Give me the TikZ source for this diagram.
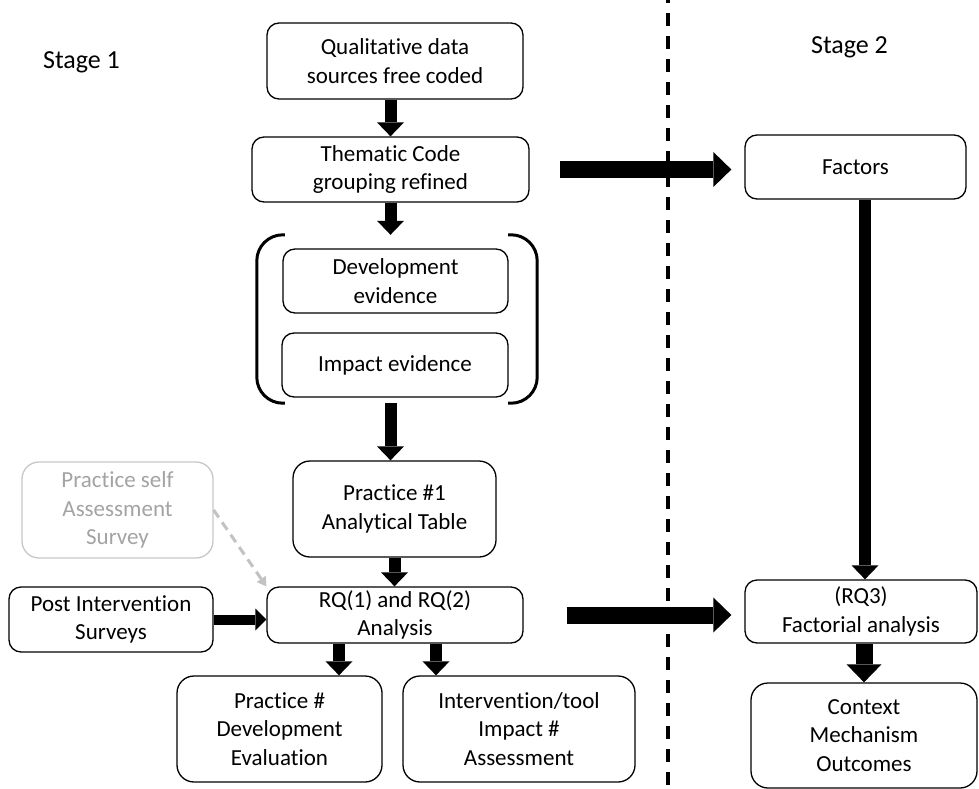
\documentclass[tikz,border=0pt]{standalone}
\usepackage{fontspec}
\setmainfont{Carlito}[Ligatures=NoCommon]
\usetikzlibrary{arrows.meta,positioning,calc}

\begin{document}
\begin{tikzpicture}[
  x=1pt, y=-1pt,
  bx/.style={draw, line width=1.3pt, rounded corners=12pt, align=center,
             font=\fontsize{23}{28.2}\selectfont, inner sep=0pt},
  tallbx/.style={bx, rounded corners=17pt},
  fadedbx/.style={tallbx, draw=black!22, text=black!36},
  stagelbl/.style={font=\fontsize{26}{31}\selectfont, inner sep=0pt},
  paren/.style={line width=3pt, rounded corners=26pt},
  divider/.style={line width=3.2pt, dash pattern=on 13pt off 10pt, dash phase=10pt},
  arr/.style={line width=12pt, -{Triangle[width=27pt,length=14pt,line width=0pt]}},
  smallarr/.style={line width=10pt, -{Triangle[width=22pt,length=11pt,line width=0pt]}},
  bigarr/.style={line width=17pt, -{Triangle[width=35pt,length=18pt,line width=0pt]}},
  fadedarr/.style={draw=black!24, line width=3pt, dash pattern=on 9pt off 6pt,
                   -{Triangle[width=11pt,length=9pt,line width=0pt]}}
]
\useasboundingbox (0,0) rectangle (979,789);
\coordinate (divtop) at (668,0);
\coordinate (divbot) at (668,789);
\draw[divider] (divtop) -- (divbot);

\node[stagelbl] (stage1) at (81.5,62) {Stage 1};
\node[stagelbl] (stage2) at (849.5,47) {Stage 2};

\node[bx, minimum width=256, minimum height=76] (qual) at (395,61) {Qualitative data\\sources free coded};
\node[bx, minimum width=277, minimum height=65] (theme) at (390.5,169.5) {Thematic Code\\grouping refined};
\node[bx, minimum width=225, minimum height=64] (dev) at (395.5,281) {Development\\evidence};
\node[bx, minimum width=226, minimum height=64] (imp) at (395,365) {Impact evidence};
\node[minimum width=280, minimum height=168, inner sep=0pt] (evid) at (397,319) {};
\draw[paren] ([xshift=28pt]evid.north west) -- (evid.north west) -- (evid.south west) -- ([xshift=28pt]evid.south west);
\draw[paren] ([xshift=-29pt]evid.north east) -- (evid.north east) -- (evid.south east) -- ([xshift=-29pt]evid.south east);
\node[tallbx, minimum width=203, minimum height=96] (tab) at (394.5,509) {Practice \#1\\Analytical Table};
\node[fadedbx, minimum width=191, minimum height=96] (self) at (117.5,510) {Practice self\\Assessment\\Survey};
\node[bx, minimum width=256, minimum height=56] (rq) at (395,615) {RQ(1) and RQ(2)\\Analysis};
\node[bx, minimum width=204, minimum height=65] (post) at (111,619.5) {Post Intervention\\Surveys};
\node[tallbx, minimum width=205, minimum height=106] (pde) at (279.5,729) {Practice \#\\Development\\Evaluation};
\node[tallbx, minimum width=232, minimum height=106] (iia) at (519,729) {Intervention/tool\\Impact \#\\Assessment};

\node[bx, minimum width=221, minimum height=64] (fac) at (855.5,167) {Factors};
\node[bx, minimum width=232, minimum height=63] (fan) at (861,611.5) {(RQ3)\\Factorial analysis};
\node[tallbx, minimum width=226, minimum height=105] (cmo) at (864,735.5) {Context\\Mechanism\\Outcomes};

\draw[arr] (qual.south -| theme.north) -- (theme.north);
\draw[arr] (theme.south) -- (theme.south |- evid.north);
\draw[arr] (evid.south -| theme.south) -- (tab.north -| theme.south);
\draw[arr] (tab.south) -- (tab.south |- rq.north);
\draw[fadedarr] (self.east) -- (rq.north west);
\draw[smallarr] (post.east) -- (post.east -| rq.west);
\draw[arr] ([xshift=-56pt]rq.south) -- ([xshift=-56pt]rq.south |- pde.north);
\draw[arr] ([xshift=41pt]rq.south) -- ([xshift=41pt]rq.south |- iia.north);
\draw[bigarr, shorten <=30pt, shorten >=13pt] (theme.east) -- (theme.east -| fac.west);
\draw[bigarr, shorten <=43pt, shorten >=13pt] (rq.east) -- (rq.east -| fan.west);
\draw[arr] ([xshift=9.5pt]fac.south) -- ([xshift=9.5pt]fac.south |- fan.north);
\draw[bigarr] (fan.south -| cmo.north) -- (cmo.north);
\end{tikzpicture}
\end{document}
